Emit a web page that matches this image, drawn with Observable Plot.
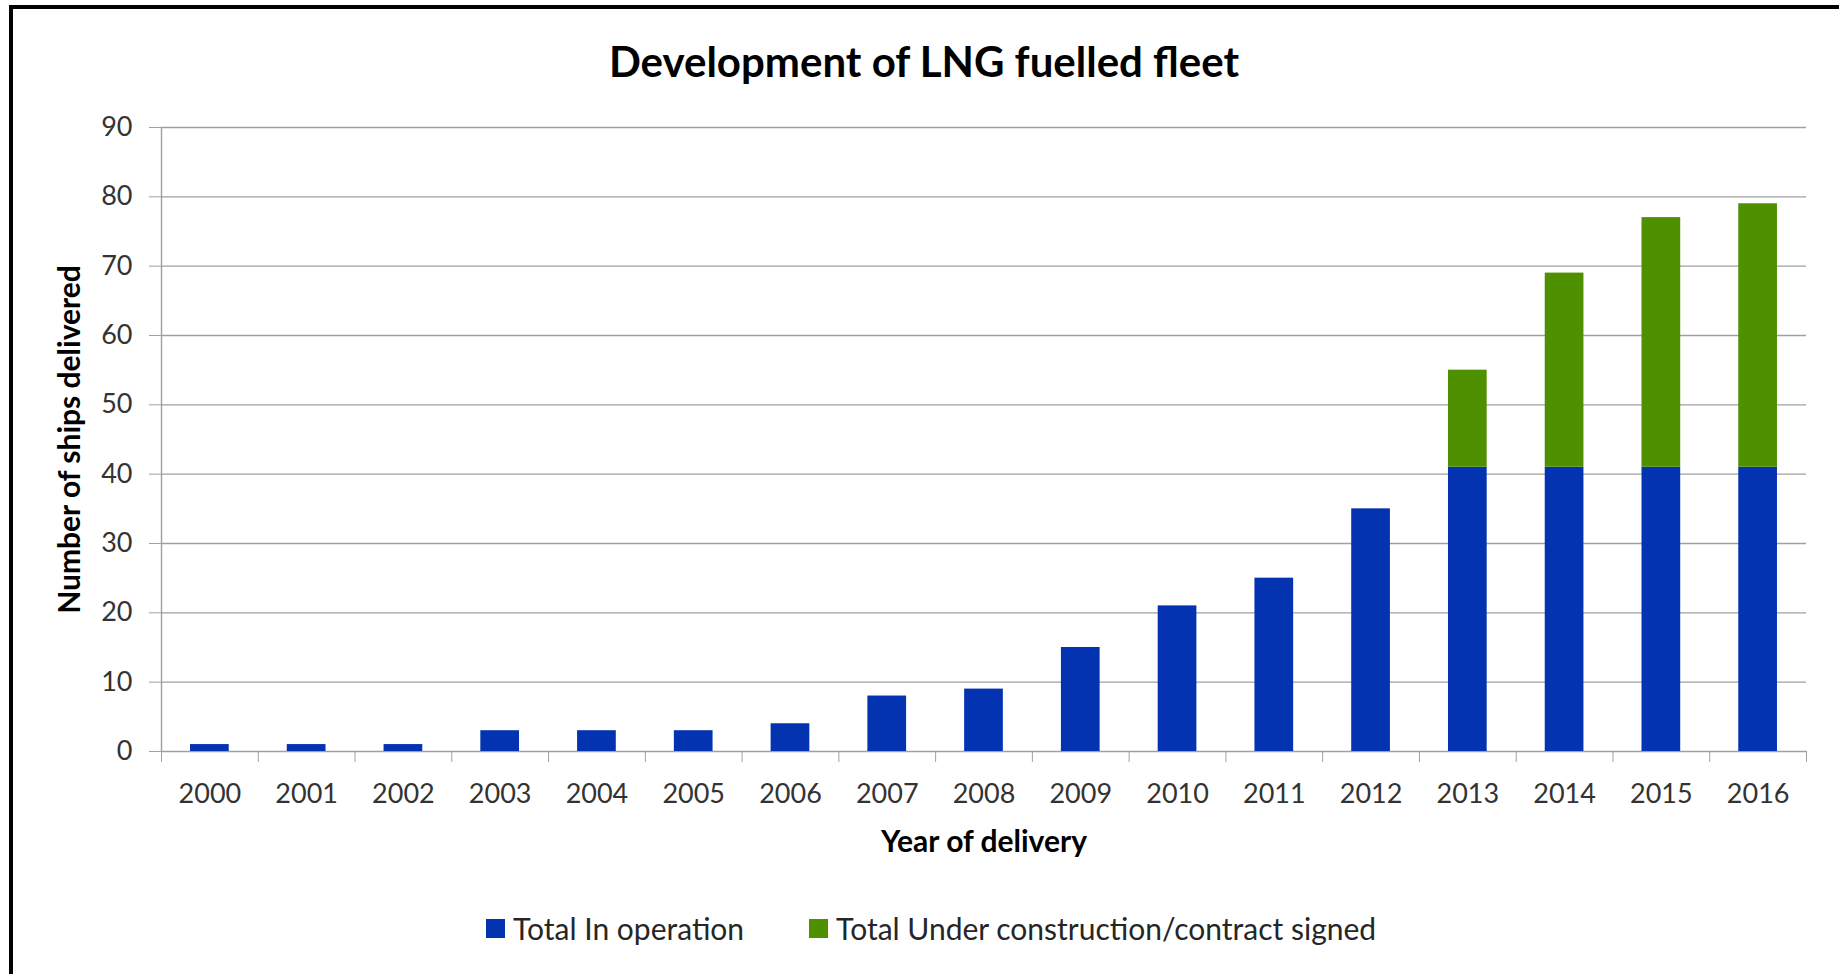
<!DOCTYPE html>
<html>
<head>
<meta charset="utf-8">
<script src="https://cdn.jsdelivr.net/npm/d3@7"></script>
<script src="https://cdn.jsdelivr.net/npm/@observablehq/plot@0.6"></script>
<style>
  html, body { margin: 0; padding: 0; background: #fff; overflow: hidden; }
  body { width: 1839px; height: 974px; position: relative; font-family: Lato, "Open Sans", sans-serif; }
  #frame { position: absolute; left: 9px; top: 5px; width: 1900px; height: 1000px;
           border-top: 4px solid #000; border-left: 4px solid #000; pointer-events: none; }
  #title { height: 100px; box-sizing: border-box; padding-top: 41px; padding-left: 9px;
           text-align: center; font-size: 42px; line-height: 40px; font-weight: 700; color: #000; }
  #chart svg { display: block; }
  #legend { display: flex; align-items: center; height: 116px; box-sizing: border-box;
            padding-left: 486px; font-size: 30px; color: #262626; }
  .item { display: flex; align-items: center; }
  .item + .item { margin-left: 65px; }
  .sw { width: 19px; height: 19px; margin-right: 8px; }
</style>
</head>
<body>
<div id="title"></div>
<div id="chart"></div>
<div id="legend"></div>
<div id="frame"></div>
<script>
const years = [2000, 2001, 2002, 2003, 2004, 2005, 2006, 2007, 2008, 2009, 2010, 2011, 2012, 2013, 2014, 2015, 2016];
const inOperation = [1, 1, 1, 3, 3, 3, 4, 8, 9, 15, 21, 25, 35, 41, 41, 41, 41];
const underConstruction = [0, 0, 0, 0, 0, 0, 0, 0, 0, 0, 0, 0, 0, 14, 28, 36, 38];
const seriesNames = ["Total In operation", "Total Under construction/contract signed"];
const seriesColors = ["#0433B2", "#4E9000"];
const yTicks = [0, 10, 20, 30, 40, 50, 60, 70, 80, 90];
const titleText = "Development of LNG fuelled fleet";
const xLabel = "Year of delivery";
const yLabel = "Number of ships delivered";

document.getElementById("title").textContent = titleText;

const rows = years.flatMap((year, i) => [
  {year, series: seriesNames[0], y1: 0, y2: inOperation[i]},
  {year, series: seriesNames[1], y1: inOperation[i], y2: inOperation[i] + underConstruction[i]}
]).filter(d => d.y2 > d.y1);

const half = 0.2; // half bar width, in category steps
const boundaries = years.map(y => y - 0.5).concat([years[years.length - 1] + 0.5]);
const grid = "#a0a0a0";

const chart = Plot.plot({
  width: 1839,
  height: 770,
  marginTop: 27,
  marginBottom: 119,
  marginLeft: 161,
  marginRight: 33,
  style: {fontFamily: "Lato, 'Open Sans', sans-serif", fontSize: "27px", color: "#333", background: "transparent", overflow: "visible"},
  x: {type: "linear", domain: [boundaries[0], boundaries[boundaries.length - 1]]},
  y: {domain: [0, 90]},
  color: {domain: seriesNames, range: seriesColors},
  marks: [
    Plot.gridY(yTicks, {stroke: grid, strokeOpacity: 1, strokeWidth: 1.4}),
    Plot.rectY(rows, {x1: d => d.year - half, x2: d => d.year + half, y1: "y1", y2: "y2", fill: "series"}),
    Plot.ruleX([boundaries[0]], {stroke: grid, strokeWidth: 1.4}),
    Plot.axisY(yTicks, {tickSize: 12, tickPadding: 17, stroke: grid, fill: "#333", label: null, fontSize: 27, tickFormat: d => String(d)}),
    Plot.axisX(boundaries, {tickSize: 11, stroke: grid, tickFormat: () => "", label: null}),
    Plot.axisX(years, {tickSize: 0, tickPadding: 32, fill: "#333", label: null, fontSize: 27, tickFormat: d => String(d)}),
    Plot.text([xLabel], {text: d => d, frameAnchor: "bottom", dy: 91, textAnchor: "middle", lineAnchor: "middle", fontWeight: "bold", fontSize: 30, fill: "#000"}),
    Plot.text([yLabel], {text: d => d, frameAnchor: "left", dx: -91, rotate: -90, textAnchor: "middle", lineAnchor: "middle", fontWeight: "bold", fontSize: 30, fill: "#000"})
  ]
});
document.getElementById("chart").appendChild(chart);

const legend = document.getElementById("legend");
seriesNames.forEach((name, i) => {
  const item = document.createElement("div");
  item.className = "item";
  const sw = document.createElement("div");
  sw.className = "sw";
  sw.style.background = seriesColors[i];
  const label = document.createElement("span");
  label.textContent = name;
  item.appendChild(sw);
  item.appendChild(label);
  legend.appendChild(item);
});
</script>
</body>
</html>
